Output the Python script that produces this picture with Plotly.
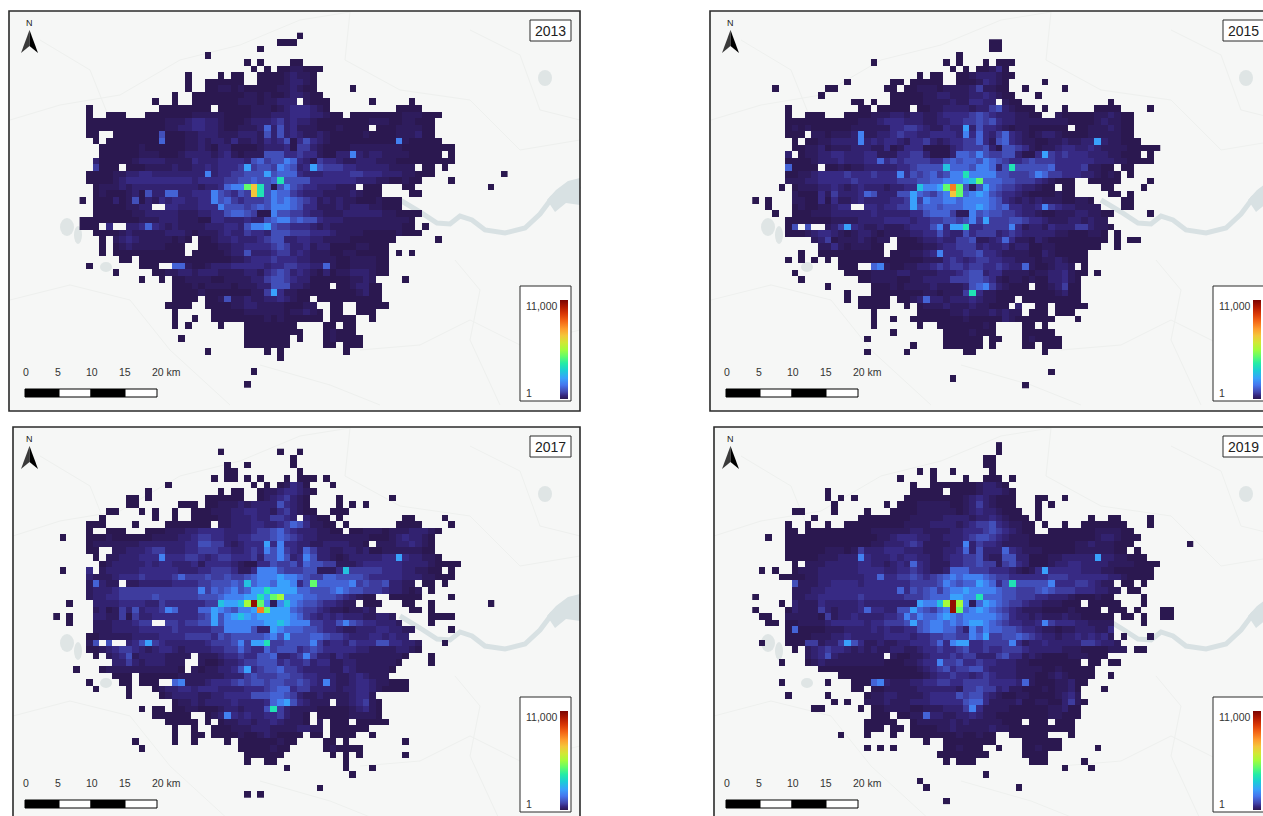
import math
import plotly.graph_objects as go

W, H = 1263, 816
YEARS = ["2013", "2015", "2017", "2019"]
LEGEND_MAX = 11000
LEGEND_TICKS = ["11,000", "1"]
SCALE_LABELS = ["0", "5", "10", "15", "20 km"]
# Estimated cell count for each colour step (hex digit 0..f)
LEVEL_COUNTS = [1, 1.1, 1.25, 1.45, 1.75, 2.2, 2.9, 4.4, 7, 12, 23, 55, 105, 390, 1070, 8300]

# row|column:steps  (one hex digit per cell, blanks are empty cells)
ROWS_2013 = [
"0|34:0","1|31:000","2|28:0","3|20:0","4|26:0 28:0 33:00","5|27:0 29:0 31:0011000",
"6|17:0 22:0 24:00 28:000012110","7|17:0 20:000000 28:000012210","8|17:0 20:0011010 27:0000112100 42:0",
"9|15:0 18:00000000110100122100","10|12:0 15:0 18:0000000111011222 35:1000 45:0 51:0",
"11|2:0 13:00000000 22:00000111012333210 49:0000",
"12|2:0 5:000 11:000000011111000011122233322100 42:00000000111000",
"13|2:00000000000011123322100012223423221000000001110011000",
"14|2:00000000000011223322 22:1001112625 32:2311100010000 46:000111100",
"15|2:00 6:0000000500 16:0112221112 26:2215252321 36:1210000010 46:000111200",
"16|3:0 5:0000000060 15:0011212213 25:1121323503 35:5321000000 45:0000710000 55:0",
"17|4:0000001000 14:0001121022 24:0000122230 34:4421000011 44:1111110000 54:0000",
"18|4:0000001110 14:0012222123 24:1011155533 34:4331002272 44:1221111000 54:00 57:0",
"19|3:2000001222 13:2111132223 23:3332564557 33:6320433211 43:2221110000 53:00000",
"20|3:4000 8:0001111211 18:2232333484 28:5547652385 38:4443322222 48:1111 53:00 56:0",
"21|2:0000112233 12:2222222272 22:3344555856 32:6632223333 42:4433322211 52:000 65:0",
"22|2:0000123333 12:3333332333 22:344556556a 32:5555333333 42:3222110010 52:0 57:0",
"23|3:0111212222 13:2222221223 23:677bda5057 33:5433222111 44:000 50:00 63:0",
"24|3:0100012052 13:2662233375 23:4354da5766 33:4322211112 43:1000 51:00",
"25|1:0 3:0002015021 13:3233223375 23:6434445767 33:6543121211 43:0001000",
"26|3:000001122 14:3322233375 24:5545657776 34:5331112122 44:211000",
"27|3:0000001122 13:2221112233 23:5665400755 33:4432211122 43:2222110000",
"28|1:0000000001 11:1122211100 21:3322232256 31:7756553222 41:1111111111 51:0",
"29|1:000 5:3 8:2236321211 18:1122233257 28:7854433321 38:2111111111 48:1100 53:0",
"30|3:0000121111 13:1222101112 23:3224332555 33:4443332111 43:100000100 52:0",
"31|4:0 6:1232111110 16:10 19:0012232223 29:4552233221 39:1110000000 55:0",
"32|4:0 6:0121111100 16:0 19:0001122333 29:3454223122 39:000011000",
"33|4:0 6:0000000000 16:0 18:0000012252 28:2234423211 38:1001100000 49:0 51:0",
"34|7:00 10:0000000000 20:0000112333 30:4333221111 40:00111100",
"35|2:0 10:000 15:6610012223 25:3333233443 35:3226100111 45:100",
"36|6:0 12:0011221222 22:1111221345 32:4232102011 42:222100",
"37|10:0 13:0 15:0011110011 25:1122455432 35:20000001121 50:0",
"38|15:0001011110 25:1112255522 35:1000 40:0012200",
"39|15:0000100000 25:0011483110 35:000000001200",
"40|15:0000 20:0015112112 30:232100 37:0000000000",
"41|14:0000 20:0000112211 30:1100011 39:00 43:00000",
"42|15:0 21:0000011111 31:1011210 39:00 43:000",
"43|15:0 18:0 21:0000000010 31:1000000 39:0000 45:0",
"44|15:0 17:0 22:0 26:00000000 38:00 41:00","45|26:000000000 38:01000","46|16:0 26:0000000 34:0 38:010000",
"47|26:0000000 38:00 41:000","48|20:0 29:0 31:0 41:0","49|31:0","51|27:0","53|26:0",
]

ROWS_2015 = [
"1|33:00","2|33:00","3|28:0","4|15:0 26:0 28:0 32:0 34:000","5|27:0 29:0 31:00130",
"6|22:0 24:00 28:001222100","7|11:0 18:00 21:00000 28:00013210 41:0",
"8|0:0 8:00 17:00 20:0011101111241100 38:0 44:0","9|7:0 18:0000011221112232100 40:0",
"10|12:00 15:0 18:0000011112113322 35:100 51:0","11|2:0 13:00 16:00000 22:001122221224521000 41:0 44:0 49:0000 57:0",
"12|2:0 5:000 11:000011122122112333345432221100 43:100000112100",
"13|2:0000000000 12:0111233322 22:2112233445 32:4532211111 42:1110000121 52:100",
"14|2:0101000000 12:1111113344 22:3211322825 32:3321011000000 46:001112100",
"15|2:000 6:1101112711 16:2234332233 26:3327363246 36:3210122100 46:001111100",
"16|3:0 5:0011222272 15:3233213342 25:1233446315 35:6321100112 45:11228211000",
"17|3:0011201112 13:2211301333 23:0000234445 33:2055431011 43:2332232111 53:100000",
"18|2:2 4:0112233222 14:3311133442 24:0002665754 34:4552003843 44:433322211000 57:0",
"19|2:0000122232 12:2233634344 22:4433565665 32:7654334544 42:4333333222 52:110000",
"20|2:60000 8:0010112222 18:2334555596 28:66577625a5 38:5555633334 48:1100 53:00",
"21|2:0011233334 12:3334333735 22:4564577a77 32:7755444576 42:44333221010 54:0",
"22|2:1112233333 12:4333333444 22:556677789b 32:66655444321000 48:00000 57:0",
"23|1:0 3:0111223212 13:3222122339 23:778beb5158 33:6544322100 44:00 50:00 56:0",
"24|3:1000314222 13:3652225586 23:5467db6787 33:5433210000100 51:00 54:0",
"25|-3:0 -1:0 3:1100303112 13:3222233484 23:7667767777 33:6532121211 43:100110 53:00",
"26|-1:0 3:010011233 14:3323344856 24:6566677876 34:5633223743 44:221111 53:00",
"27|0:0 3:0001112222 13:2232222233 23:5666411756 33:5544322100 43:111221100 57:0",
"28|2:0000000111 12:1222233332 22:3344554574 32:8444554332 42:111221211",
"29|2:05 5:5 8:1248321121 18:1123335738 28:8a33444473 38:1221322244 48:2110",
"30|2:0001233210 12:1221011112 22:2335322534 32:4423432222 42:211000110 52:0",
"31|6:1240111210 16:11 19:0001223224 29:4511236311 39:021000000000 52:0 54:00",
"32|7:1131011100 19:0000112334 29:4423223122 39:00110000000 52:0",
"33|4:0 7:0000000000 18:0001123733 28:3445332111 38:1002100000",
"34|2:0 4:0 6:0 8:0 10:0000000000 20:0001113432 30:3443322111 40:01121000",
"35|10:000 15:6710011223 25:4344344334 35:3226100122 45:1 47:0",
"36|3:0 11:0000111122 21:1111222345 31:5233111101 41:1223100 49:0",
"37|4:0 13:0011110011 23:2222444554 33:3101101002 43:2310",
"38|8:0 15:0001011112 25:1111256742 35:1000 40:0012400",
"39|11:0 15:0000000011 25:01114a3110 35:000000001200",
"40|11:0 13:00000 19:0012622122 29:23211000 38:000000000",
"41|13:00000 20:0 22:01112111211000 37:2 40:00 43:00000",
"42|15:0 22:00000112111212 36:11 39:000 43:000",
"43|15:0 18:0 21:00000000100000210 38:00000 46:0",
"44|15:0 22:0 25:000000010 38:00 41:0","45|18:0 26:00001000 38:00000","46|14:0 26:000000 33:00 38:010000",
"47|21:0 26:000000 33:0 38:00 41:000","48|14:0 20:0 29:00 41:0","51|42:0","52|27:0","53|38:0",
]

ROWS_2017 = [
"0|22:0 31:0 34:0","1|33:0","2|23:0 26:0 33:0","3|23:00 34:0","4|21:0 23:00 26:0 28:0 32:0 34:000 38:0",
"5|14:0 27:0 29:0 31:01320 39:0","6|11:0 22:0 24:00 28:011233210","7|8:00 11:0 20:000000 28:01234210 40:0 48:0",
"8|8:00 16:000 20:0011121222253210 40:0 42:0 44:0","9|5:00 10:0 12:0 15:0 18:0001112233221342100 39:000",
"10|4:0 12:0 15:0 18:0000112223224432 35:2100 40:0 50:00 56:0","11|2:000 9:0 14:0000000 22:112223322346531100 41:0 49:0000 57:0",
"12|2:0 5:000 11:000111223333222234456432221100 42:00111011122210",
"13|-2:0 2:0001000000 12:1111223443 22:3223344456 32:5432211111 42:1110001232 52:210",
"14|2:0111111122 12:2222233554 22:4212333837 32:3322112222110 46:111223210",
"15|2:00 6:1122234422 16:2334443322 26:3437574326 36:4221122120 46:011111100",
"16|3:0 5:1122233373 15:3344323443 25:3342557523 35:7522101222 45:22338322110",
"17|4:0122222323 14:3222313333 24:2100335445 34:3655441112 44:3333332222 54:10000",
"18|-2:0 2:3 4:1222223333 14:3322233444 24:3113777544 34:4551113944 44:444333221100 57:0",
"19|2:2111233343 12:3334644454 22:4544567778 32:7765446655 42:5543333322 52:211000",
"20|2:16211 8:1122222333 18:3445556596 28:77688735b6 38:6666745445 48:2211 53:00 56:0",
"21|2:1222344444 12:4444444746 22:5675688a88 32:8866555676 42:55444322101 54:0",
"22|2:1223344444 12:5444444555 22:677788a8bc 32:77766555432100 48:00000 57:0",
"23|-1:0 3:2222333322 13:4333333449 23:889cfb7179 33:7655433211 44:000 50:00 54:0 63:0",
"24|3:1201425233 13:4763336687 23:65778eb888 33:6544321101121 51:00 54:0",
"25|-3:0 -1:0 3:2211404223 13:3333334585 23:7898788888 33:7643232322 43:211221 54:0000",
"26|-1:0 3:111222344 14:4434455857 24:7777788987 34:7744335754 44:332221 54:0",
"27|3:1112222333 13:3343333344 23:7777522876 33:6655433211 43:222332211 57:0",
"28|2:0011111222 12:2333344443 22:5455555675 32:8555665443 42:222332322",
"29|2:15 5:5 8:2358432222 18:2234445748 28:8a44555574 38:2332433355 48:33221 56:0",
"30|2:0012344321 12:2332122223 22:3446433645 32:5534543333 42:32211112210",
"31|3:0 5:1235122221 15:111 19:1112334335 29:5622347422 39:132111111110 54:0",
"32|6:2242122211 16:1 19:1001223445 29:5534334233 39:11221111110 54:0",
"33|0:0 4:0111111111 14:110 18:1011223583 28:4556443222 38:2113211111 48:0",
"34|6:000 10:0000001111 20:1112224544 30:4554433222 40:11232111",
"35|2:0 7:00 10:000 15:6711123334 25:5455455445 35:4327211233 45:211000",
"36|3:0 8:0 12:0122332333 22:2222333456 32:6344222212 42:233210000",
"37|8:0 13:0122221122 23:3333555665 33:4211211112 43:331",
"38|15:0112122223 25:2222367853 35:2111 40:1123410",
"39|10:0 12:00 15:0011000122 25:12225a4211 35:110000012310",
"40|12:000000 20:0127323223 30:342110 37:0000011110",
"41|14:00000 20:0 22:01122122321110 37:1 39:000 43:00000",
"42|15:0 18:0 21:000111222111122 36:11 39:0000 43:00",
"43|15:0 18:00 21:00001001210000 36:00 39:0000 45:0",
"44|9:0 15:0 18:0 23:0 25:000000100 38:00 41:0 50:0","45|10:0 25:00000100 38:010000",
"46|26:000000 39:0 41:0 43:0 50:0","47|26:0 29:00 41:0","48|32:0 41:0 45:0","49|42:0","51|37:0","52|26:0 28:0",
]

ROWS_2019 = [
"-1|34:0","0|34:0","1|32:00","2|32:00","3|22:0 24:0 27:0 33:0","4|19:0 24:0 29:0 32:000 36:0",
"5|21:0 24:000000012210","6|8:0 21:00000 27:0000122210","7|8:0 10:0 12:0 20:00000000012321000 40:00 44:0",
"8|9:0 17:0 19:000111110012421000 40:0 42:0","9|3:00 9:0 14:0 18:00001111110123221000 40:0",
"10|6:0 13:00000000111112222122321000 40:0 48:0 51:00 57:0",
"11|2:0 5:0 8:0 11:00000000011112222123445321100 41:0 44:0 47:0000000 57:0",
"12|2:00 5:00000000001111112211112233345432100 42:0000000111100",
"13|-1:0 2:0000000000 12:0000112333 22:2211222345 32:5432111000 42:0000000122 52:1000",
"14|2:0000000000 12:0001122234 22:3111122724 32:3321111000 42:0000112111 52:000 63:0",
"15|2:0000001110 12:1422233322 22:2111223625 32:2226321110 42:000011111100 55:0",
"16|2:0000011122 12:2732223233 22:2211233445 32:2115522000 42:1122222822 52:11000",
"17|3:0 5:1112222233 15:2212326321 25:1133445441 35:4532000122 45:3322221111 55:000 58:0",
"18|-2:0 0:0 3:0111222222 13:3333223343 23:2112666444 33:3332101383 43:3333222110 53:00000",
"19|1:0000112222 11:2223363344 21:5434567677 31:7654433333 41:3444333333 51:2210000",
"20|3:5111223333 13:2333333344 23:4457656687 33:635a555557 43:333443211 53:00 56:0",
"21|3:1112233333 13:3333336354 23:5646778777 33:7655444565 43:4443332211 54:00",
"22|-3:0 3:1122333333 13:4333333444 23:56668877a6 33:6655444332 43:221000100 56:0",
"23|1:0 3:2111322222 13:3222222228 23:779cfc7168 33:76544322111000 48:00000 56:0",
"24|-3:0 2:0211142122 12:2363322558 22:65467fb678 32:7654321110 42:00010000 51:000 55:0 59:00",
"25|-2:00 2:1111104122 12:3222233475 22:7667876777 32:7765322121 42:1121100000 53:00 56:0 59:00",
"26|-1:00 2:0011112333 12:3323344458 22:5677676788 32:7654332237 42:4333221111 56:0",
"27|2:06 4:0000111222 14:2323223356 24:7766427576 34:6554332110 44:11222113",
"28|2:0000111223 12:2222233332 22:3344554476 32:8445565432 42:2122323231 53:0 57:0",
"29|-2:0 2:0004412248 12:5311211223 22:3346378833 32:4444731223 42:2222244322 52:1",
"30|3:0 5:1234332121 15:2112211233 25:4334533433 35:4443222221 45:110000111 55:00",
"31|5:1235211111 15:11 18:1001123334 28:3442224533 38:1210000111 48:000",
"32|1:0 5:0121111111 15:1100011233 25:7445334332 35:2211000000 45:00 48:00 51:00",
"33|7:0000000000 17:0000012345 27:3445532222 37:111100100000",
"34|10:0000000000 20:0001233433 30:2343222111 40:001210000 51:0",
"35|1:0 8:0 12:0006721112 22:2334433444 32:4333326100 42:011200",
"36|12:00 15:0011111222 25:2221445442 35:3110001011 45:20 50:0",
"37|2:0 8:0 14:0112211112 24:3333545532 34:1001100001 44:231",
"38|9:0 11:0 14:1112111222 24:3333356631 34:1112001100 44:2410",
"39|6:00 13:0 15:0011110011 25:1222473111 35:100000011200",
"40|15:000 19:0011622112 29:232110000000011000",
"41|14:00000 21:01111121211111000 39:000 43:000",
"42|14:000 18:00 21:0000112111112110000000000",
"43|10:0 14:0 18:0 21:0000000100100 36:000000 45:0",
"44|23:0 26:00000000 38:000000","45|14:0 16:0 18:0 26:001000 34:0 38:001000 49:0",
"46|25:00000000 38:0000","47|26:0 28:000 39:000 47:0","48|44:0 48:0","49|32:0","50|22:0","51|23:0 37:0","53|26:0",
]

ROWS = [ROWS_2013, ROWS_2015, ROWS_2017, ROWS_2019]

PITCH = 6.58
PANELS = [
    dict(l=9, r=580, t=11, b=411, x0=73, y0=32.7, dx=0, rx=0, dy=0, low=0),
    dict(l=710, r=1281, t=11, b=411, x0=772, y0=32.7, dx=701, rx=693, dy=0, low=0),
    dict(l=13, r=580, t=427, b=827, x0=73, y0=448.7, dx=0, rx=0, dy=416, low=411),
    dict(l=714, r=1281, t=427, b=827, x0=772, y0=448.7, dx=701, rx=693, dy=416, low=411),
]
LAND = "#f6f7f6"
WATER = "#d8e1e3"
ROAD = "#eef0ee"
INK = "#2b2b2b"
COLORSCALE = [
    [0.0, "#2b1850"], [0.035, "#35267e"], [0.07, "#4145ab"], [0.14, "#4675ed"], [0.21, "#39a2fc"],
    [0.29, "#1bcfd4"], [0.36, "#24eca6"], [0.43, "#61fc6c"], [0.5, "#a4fc3b"], [0.57, "#d1e834"],
    [0.64, "#f3c63a"], [0.71, "#fe9b2d"], [0.79, "#f36315"], [0.86, "#d93806"], [0.93, "#b11901"], [1.0, "#7a0402"],
]
# faint background lanes of the base map, drawn in 2013 panel pixels
LANES = [
    [(10, 120), (60, 105), (120, 95), (180, 60), (240, 45), (300, 20), (350, 12)],
    [(350, 12), (345, 60), (400, 90), (470, 100), (520, 150), (580, 140)],
    [(10, 300), (70, 285), (130, 300), (170, 350), (230, 405)],
    [(360, 350), (420, 345), (470, 320), (520, 345), (580, 330)],
    [(455, 260), (480, 290), (470, 340), (500, 405)],
    [(40, 40), (90, 70), (110, 120)],
    [(470, 30), (520, 55), (540, 110), (580, 120)],
    [(260, 365), (330, 385), (380, 405)],
]


def X(px):
    return px / W


def Y(py):
    return 1 - py / H


def path(points, close=True):
    s = "M " + " L ".join(f"{X(a):.5f} {Y(b):.5f}" for a, b in points)
    return s + (" Z" if close else "")


def grid(rows):
    cells = {}
    for line in rows:
        r, segs = line.split("|")
        for seg in segs.split():
            k, steps = seg.split(":")
            for i, c in enumerate(steps):
                cells[(int(r), int(k) + i)] = LEVEL_COUNTS[int(c, 16)]
    rs = [c[0] for c in cells]
    ks = [c[1] for c in cells]
    rr = list(range(min(rs), max(rs) + 1))
    kk = list(range(min(ks), max(ks) + 1))
    z = [[math.log10(cells[(r, k)]) if (r, k) in cells else None for k in kk] for r in rr]
    return kk, rr, z


fig = go.Figure()
shapes, annotations = [], []
layout_axes = {}
zmax = math.log10(LEGEND_MAX)

for i, (year, rows, p) in enumerate(zip(YEARS, ROWS, PANELS)):
    dx, rx, dy, low = p["dx"], p["rx"], p["dy"], p["low"]
    shapes.append(dict(type="rect", xref="paper", yref="paper", x0=X(p["l"]), x1=X(p["r"]), y0=Y(p["b"]), y1=Y(p["t"]),
                       fillcolor=LAND, line=dict(width=0), layer="below"))
    for lane in LANES:
        pts = [(max(a + dx, p["l"]), min(b + dy, p["b"])) for a, b in lane]
        shapes.append(dict(type="path", xref="paper", yref="paper", path=path(pts, False),
                           line=dict(color=ROAD, width=1), layer="below"))
    river = [(400, 200), (420, 212), (437, 223), (450, 224), (460, 216), (472, 220), (485, 230), (505, 233), (525, 228), (540, 214), (552, 198), (580, 186)]
    shapes.append(dict(type="path", xref="paper", yref="paper", path=path([(a + dx, b + dy) for a, b in river], False),
                       line=dict(color=WATER, width=5), layer="below"))
    estuary = [(547, 200), (556, 190), (568, 181), (580, 178), (580, 205), (566, 203), (555, 212)]
    shapes.append(dict(type="path", xref="paper", yref="paper", path=path([(a + dx, b + dy) for a, b in estuary]),
                       fillcolor=WATER, line=dict(width=0), layer="below"))
    for a0, a1, b0, b1 in [(60, 74, 218, 236), (100, 112, 262, 272), (538, 552, 70, 86), (74, 82, 226, 244), (133, 142, 244, 254)]:
        shapes.append(dict(type="circle", xref="paper", yref="paper", x0=X(a0 + dx), x1=X(a1 + dx), y0=Y(b1 + dy), y1=Y(b0 + dy),
                           fillcolor="#dfe5e5", line=dict(width=0), layer="below"))

    kk, rr, z = grid(rows)
    ax = "" if i == 0 else str(i + 1)
    pr, pb = min(p["r"], W), min(p["b"], H)
    layout_axes[f"xaxis{ax}"] = dict(domain=[X(p["l"]), X(pr)], range=[(p["l"] - p["x0"]) / PITCH, (pr - p["x0"]) / PITCH],
                                     visible=False, anchor=f"y{ax}", fixedrange=True)
    layout_axes[f"yaxis{ax}"] = dict(domain=[Y(pb), Y(p["t"])], range=[(pb - p["y0"]) / PITCH, (p["t"] - p["y0"]) / PITCH],
                                     visible=False, anchor=f"x{ax}", fixedrange=True)
    bar_l, bar_b = 560 + rx, 399 + low
    fig.add_trace(go.Heatmap(
        x=[k + 0.5 for k in kk], y=[r + 0.5 for r in rr], z=z, xaxis=f"x{ax}", yaxis=f"y{ax}",
        colorscale=COLORSCALE, zmin=0, zmax=zmax, hoverinfo="skip",
        colorbar=dict(x=X(bar_l), xanchor="left", y=Y(bar_b), yanchor="bottom", len=99, lenmode="pixels",
                      thickness=8, thicknessmode="pixels", xpad=0, ypad=0, outlinewidth=0,
                      showticklabels=False, ticks=""),
    ))
    shapes.append(dict(type="rect", xref="paper", yref="paper", x0=X(p["l"]), x1=X(p["r"]), y0=Y(p["b"]), y1=Y(p["t"]),
                       line=dict(color=INK, width=1.6), layer="above"))
    shapes.append(dict(type="rect", xref="paper", yref="paper", x0=X(530 + rx), x1=X(571 + rx), y0=Y(41 + dy), y1=Y(20 + dy),
                       fillcolor="white", line=dict(color=INK, width=1), layer="above"))
    annotations.append(dict(xref="paper", yref="paper", x=X(550.5 + rx), y=Y(31 + dy), text=year, showarrow=False,
                            font=dict(family="Liberation Sans", size=14, color="#222"), xanchor="center", yanchor="middle"))
    shapes.append(dict(type="rect", xref="paper", yref="paper", x0=X(520 + rx), x1=X(571 + rx), y0=Y(401 + low), y1=Y(286 + low),
                       fillcolor="white", line=dict(color=INK, width=1), layer="above"))
    annotations.append(dict(xref="paper", yref="paper", x=X(524 + rx), y=Y(306 + low), text=LEGEND_TICKS[0], showarrow=False,
                            font=dict(family="Liberation Sans", size=10.5, color="#333"), xanchor="left", yanchor="middle"))
    annotations.append(dict(xref="paper", yref="paper", x=X(524 + rx), y=Y(393 + low), text=LEGEND_TICKS[1], showarrow=False,
                            font=dict(family="Liberation Sans", size=10.5, color="#333"), xanchor="left", yanchor="middle"))
    shapes.append(dict(type="path", xref="paper", yref="paper", path=path([(29.5 + dx, 30 + dy), (21 + dx, 53 + dy), (29.5 + dx, 46 + dy)]),
                       fillcolor="#3a3a3a", line=dict(width=0), layer="above"))
    shapes.append(dict(type="path", xref="paper", yref="paper", path=path([(29.5 + dx, 30 + dy), (38 + dx, 53 + dy), (29.5 + dx, 46 + dy)]),
                       fillcolor="#000000", line=dict(width=0), layer="above"))
    annotations.append(dict(xref="paper", yref="paper", x=X(29 + dx), y=Y(23 + dy), text="N", showarrow=False,
                            font=dict(family="Liberation Sans", size=9, color="#222"), xanchor="center", yanchor="middle"))
    edges = [25, 59, 91, 125, 157]
    for j in range(4):
        shapes.append(dict(type="rect", xref="paper", yref="paper", x0=X(edges[j] + dx), x1=X(edges[j + 1] + dx),
                           y0=Y(397 + low), y1=Y(389 + low), fillcolor="black" if j % 2 == 0 else "white",
                           line=dict(color="black", width=1), layer="above"))
    for lab, px in zip(SCALE_LABELS, [26, 58, 92, 125, 150]):
        annotations.append(dict(xref="paper", yref="paper", x=X(px + dx), y=Y(372 + low), text=lab, showarrow=False,
                                font=dict(family="Liberation Sans", size=10.5, color="#333"),
                                xanchor="left" if lab.endswith("km") else "center", yanchor="middle"))

fig.update_layout(width=W, height=H, margin=dict(l=0, r=0, t=0, b=0, autoexpand=False), paper_bgcolor="white",
                  plot_bgcolor="rgba(0,0,0,0)", showlegend=False, shapes=shapes, annotations=annotations, **layout_axes)
fig.write_html("out.html", config=dict(displayModeBar=False),
               post_script="document.body.style.margin='0';document.documentElement.style.overflow='hidden';")
